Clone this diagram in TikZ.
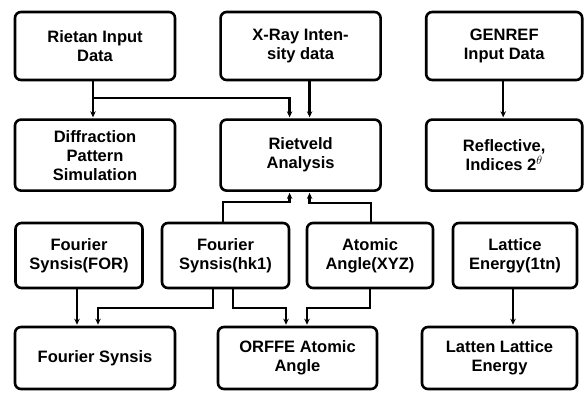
\documentclass[tikz,border=0pt]{standalone}
\usepackage{fontspec}
\setmainfont{Liberation Sans}
\usetikzlibrary{positioning,arrows.meta}

\begin{document}
\begin{tikzpicture}[
        x=1pt, y=-1pt,
        node distance=37pt and 43pt,
        box/.style={rectangle, rounded corners=6pt, draw=black, line width=2.6pt,
                   minimum width=160pt, minimum height=68pt, align=center, inner sep=2pt,
                   font=\fontsize{16.5}{19}\selectfont\bfseries},
        midbox/.style={box, minimum height=71pt},
        smallbox/.style={box, minimum width=127pt, minimum height=65pt},
        lowbox/.style={box, minimum height=62pt},
        arrow/.style={-{Stealth[length=6pt,width=5.5pt]}, line width=2.3pt, shorten >=1pt}
    ]
        \useasboundingbox (0,0) rectangle (584,392);

        % erste Reihe
        \node[box] (rietan) at (95,46) {Rietan Input\\Data};
        \node[box, right=of rietan] (xray) {X-Ray Inten-\\sity data};
        \node[box, right=of xray, minimum width=156pt] (genref) {GENREF\\Input Data};

        % zweite Reihe
        \node[midbox, below=of rietan] (diffr) {Diffraction\\Pattern\\Simulation};
        \node[midbox, below=of xray] (rietveld) {Rietveld\\Analysis};
        \node[midbox, below=of genref, minimum width=156pt] (reflect) {Reflective,\\Indices 2$^{\theta}$};

        % dritte Reihe
        \node[smallbox] (forsyn) at (79,255.5) {Fourier\\Synsis(FOR)};
        \node[smallbox] (hklsyn) at (225.5,255.5) {Fourier\\Synsis(hk1)};
        \node[smallbox, minimum width=126pt] (xyz) at (370,255.5) {Atomic\\Angle(XYZ)};
        \node[smallbox, minimum width=124pt] (lattice) at (515,255.5) {Lattice\\Energy(1tn)};

        % vierte Reihe
        \node[lowbox] (fsyn) at (95,358) {Fourier Synsis};
        \node[lowbox, minimum width=159pt] (orffe) at (297.5,358) {ORFFE Atomic\\Angle};
        \node[lowbox, minimum width=155pt] (latten) at (499.5,358) {Latten Lattice\\Energy};

        % Verbindungen
        \draw[arrow] ([xshift=-2pt]rietan.south) -- ([xshift=-2pt]diffr.north);
        \draw[arrow] ([xshift=-2pt]rietan.south) ++(0,17) -| ([xshift=-11pt]rietveld.north);
        \draw[arrow] ([xshift=9pt]xray.south) -- ([xshift=9pt]rietveld.north);
        \draw[arrow] ([xshift=-1pt]genref.south) -- ([xshift=-1pt]reflect.north);
        \draw[arrow] ([xshift=-2.5pt]hklsyn.north) -- ++(0,-20) -| ([xshift=-11pt]rietveld.south);
        \draw[arrow] ([xshift=1pt]xyz.north) -- ++(0,-19) -| ([xshift=9pt]rietveld.south);
        \draw[arrow] ([xshift=-2pt]forsyn.south) -- ([xshift=-18pt]fsyn.north);
        \draw[arrow] ([xshift=-12.5pt]hklsyn.south) -- ++(0,19) -| ([xshift=3pt]fsyn.north);
        \draw[arrow] ([xshift=7.5pt]hklsyn.south) -- ++(0,19) -| ([xshift=-11.5pt]orffe.north);
        \draw[arrow] (xyz.south) -- ++(0,19) -| ([xshift=9.5pt]orffe.north);
        \draw[arrow] ([xshift=-2pt]lattice.south) -- ([xshift=13.5pt]latten.north);
    \end{tikzpicture}
\end{document}
